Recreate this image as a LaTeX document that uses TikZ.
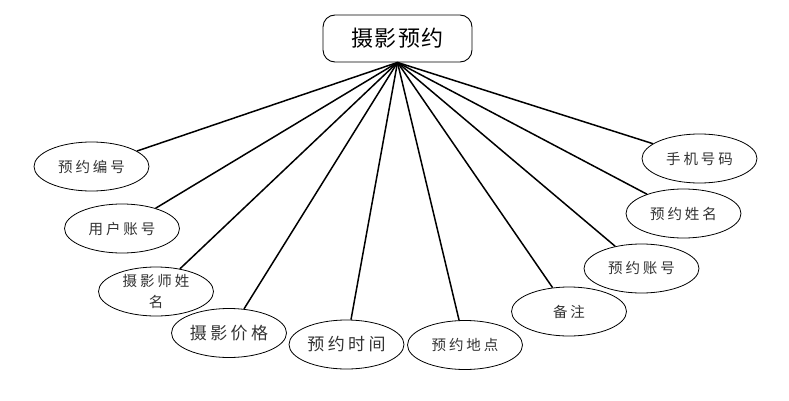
\documentclass[tikz,border=0pt]{standalone}
\usepackage{fontspec}
\setmainfont{Noto Sans CJK SC}
\newfontfamily\cjkls[LetterSpace=20]{Noto Sans CJK SC}
\newfontfamily\cjkhub[LetterSpace=6]{Noto Sans CJK SC}
\usetikzlibrary{shapes.geometric}
\tikzset{
  attr/.style={draw=black, line width=0.8pt, ellipse, minimum width=115pt, minimum height=49pt, inner sep=0pt, fill=white, font=\cjkls\fontsize{14.5pt}{20pt}\selectfont, text=black!80},
  attrbig/.style={attr, font=\cjkls\fontsize{17pt}{20pt}\selectfont},
  hubbox/.style={draw=black, line width=0.9pt, rounded corners=12pt, minimum width=149pt, minimum height=47pt, inner sep=0pt, fill=white, font=\cjkhub\fontsize{22pt}{24pt}\selectfont},
  link/.style={line width=1.5pt, black}
}
\begin{document}
\begin{tikzpicture}[x=1pt,y=-1pt]
\useasboundingbox (0,0) rectangle (789,401);
\node[hubbox] (main) at (397.5,38.5) {摄影预约};
\coordinate (hub) at (main.south);
\node[attr] (a1) at (91.5,166.5) {预约编号};
\node[attr] (a2) at (122,228.5) {用户账号};
\node[attr, align=center] (a3) at (156,291.5) {摄影师姓\\[1pt]名};
\node[attrbig] (a4) at (229,333) {摄影价格};
\node[attrbig] (a5) at (346.5,344.5) {预约时间};
\node[attr] (a6) at (465,345) {预约地点};
\node[attr] (a7) at (569,311.5) {备注};
\node[attr] (a8) at (641.5,268.5) {预约账号};
\node[attr] (a9) at (683.5,213.5) {预约姓名};
\node[attr] (a10) at (699.5,158.5) {手机号码};
\foreach \n in {a1,a2,a3,a4,a5,a6,a7,a8,a9,a10}
  \draw[link] (hub) -- (\n);
\end{tikzpicture}
\end{document}
